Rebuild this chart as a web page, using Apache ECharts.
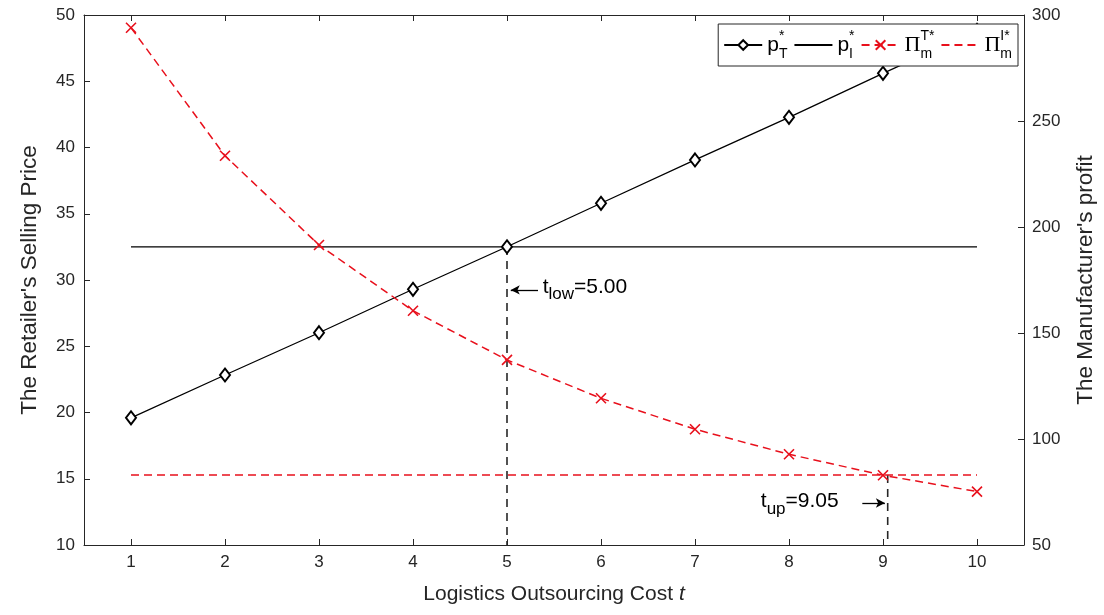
<!DOCTYPE html>
<html><head><meta charset="utf-8">
<style>html,body{margin:0;padding:0;background:#fff}#c{width:1104px;height:615px}</style>
<script src="https://cdn.jsdelivr.net/npm/echarts@6/dist/echarts.min.js"></script>
</head><body><div id="c"></div>
<script>
// ---- data ----
const tValues = [1, 2, 3, 4, 5, 6, 7, 8, 9, 10];
const xTicks = [1, 2, 3, 4, 5, 6, 7, 8, 9, 10];
const pT = [19.6, 22.83, 26.02, 29.3, 32.51, 35.79, 39.06, 42.28, 45.6, 48.85];
const pI = [32.5, 32.5, 32.5, 32.5, 32.5, 32.5, 32.5, 32.5, 32.5, 32.5];
const PiT = [294, 233.6, 191.5, 160.5, 137.3, 119.2, 104.6, 92.8, 82.9, 75.2];
const PiI = [83, 83, 83, 83, 83, 83, 83, 83, 83, 83];
const tLow = 5.00;
const tUp = 9.05;
const tLowLevel = 32.5;   // pI level (left axis)
const tUpLevel = 83;      // PiI level (right axis)
const leftMin = 10, leftMax = 50, leftStep = 5;
const rightMin = 50, rightMax = 300, rightStep = 50;

// ---- chart ----
const FONT = 'Liberation Sans';
const AX = '#262626';
const RED = '#e8101c';
const chart = echarts.init(document.getElementById('c'), null, {renderer: 'canvas'});
const pairs = (xs, ys) => xs.map((x, i) => [x, ys[i]]);

const sub = {fontFamily: FONT, fontSize: 14, lineHeight: 14, verticalAlign: 'bottom', color: '#000'};
const sup0 = {fontFamily: FONT, fontSize: 14, lineHeight: 14, verticalAlign: 'top', color: '#000', width: 0};
const legendLabels = {
  pT: '{m|p}{sp|*}{sb|T}',
  pI: '{m|p}{sp|*}{sb|I}',
  PiT: '{g|\u03A0}{sp|T*}{sb|m}',
  PiI: '{g|\u03A0}{sp|I*}{sb|m}'
};
const noSymbol = {color: 'rgba(0,0,0,0)', borderColor: 'rgba(0,0,0,0)', borderWidth: 0};

const axisCommon = {
  axisLine: {show: true, onZero: false, lineStyle: {color: AX, width: 1}},
  axisTick: {show: true, inside: true, length: 6, lineStyle: {color: AX}},
  splitLine: {show: false},
  axisLabel: {fontFamily: FONT, fontSize: 17, color: AX}
};

chart.setOption({
  animation: false,
  backgroundColor: '#fff',
  grid: {left: 84, right: 80, top: 15, bottom: 70, containLabel: false, outerBoundsMode: 'none'},
  legend: {
    data: [
      {name: 'pT'},
      {name: 'pI', itemStyle: noSymbol},
      {name: 'PiT'},
      {name: 'PiI', itemStyle: noSymbol}
    ],
    right: 86, top: 24,
    backgroundColor: '#fff', borderColor: AX, borderWidth: 1, borderRadius: 0,
    padding: [5, 6, 5, 5], itemGap: 6, itemWidth: 38, itemHeight: 12,
    selectedMode: false,
    formatter: name => legendLabels[name],
    textStyle: {
      fontFamily: FONT, fontSize: 20, color: '#000',
      rich: {
        m: {fontFamily: FONT, fontSize: 21, lineHeight: 32, color: '#000'},
        g: {fontFamily: 'Liberation Serif', fontSize: 22, lineHeight: 32, color: '#000'},
        sp: sup0, sb: sub
      }
    }
  },
  xAxis: [
    Object.assign({}, axisCommon, {
      type: 'value', position: 'bottom', min: 0.5, max: 10.5,
      axisTick: {show: true, inside: true, length: 6, customValues: xTicks, lineStyle: {color: AX}},
      axisLabel: {customValues: xTicks, margin: 9, fontFamily: FONT, fontSize: 17, color: AX},
      name: 'Logistics Outsourcing Cost {i|t}', nameLocation: 'middle', nameGap: 39,
      nameTextStyle: {fontFamily: FONT, fontSize: 21, color: AX,
        rich: {i: {fontFamily: FONT, fontSize: 21, fontStyle: 'italic', color: AX}}}
    }),
    Object.assign({}, axisCommon, {
      type: 'value', position: 'top', min: 0.5, max: 10.5,
      axisTick: {show: true, inside: true, length: 6, customValues: xTicks, lineStyle: {color: AX}},
      axisLabel: {show: false}
    })
  ],
  yAxis: [
    Object.assign({}, axisCommon, {
      type: 'value', position: 'left', min: leftMin, max: leftMax, interval: leftStep,
      axisLabel: {margin: 9, fontFamily: FONT, fontSize: 17, color: AX},
      name: "The Retailer's Selling Price", nameLocation: 'middle', nameGap: 43, nameRotate: 90,
      nameTextStyle: {fontFamily: FONT, fontSize: 22.5, color: AX}
    }),
    Object.assign({}, axisCommon, {
      type: 'value', position: 'right', min: rightMin, max: rightMax, interval: rightStep,
      axisLabel: {margin: 8, fontFamily: FONT, fontSize: 17, color: AX},
      name: "The Manufacturer's profit", nameLocation: 'middle', nameGap: 50, nameRotate: 90,
      nameTextStyle: {fontFamily: FONT, fontSize: 22.5, color: AX}
    })
  ],
  series: [
    {
      name: 'pT', type: 'line', xAxisIndex: 0, yAxisIndex: 0, data: pairs(tValues, pT),
      symbol: 'emptyDiamond', symbolSize: [10, 13], showAllSymbol: true,
      lineStyle: {color: '#000', width: 1.3},
      itemStyle: {color: '#000', borderWidth: 1}, z: 3
    },
    {
      name: 'pI', type: 'line', xAxisIndex: 0, yAxisIndex: 0, data: pairs(tValues, pI),
      symbol: 'none', lineStyle: {color: '#000', width: 1.3}, itemStyle: {color: '#000'}, z: 2
    },
    {
      name: 'PiT', type: 'line', xAxisIndex: 0, yAxisIndex: 1, data: pairs(tValues, PiT),
      symbol: 'path://M0,0L10,10M10,0L0,10', symbolSize: 10, showAllSymbol: true,
      lineStyle: {color: RED, width: 1.5, type: [8, 5]},
      itemStyle: {color: RED, borderColor: RED, borderWidth: 1.6}, z: 3
    },
    {
      name: 'PiI', type: 'line', xAxisIndex: 0, yAxisIndex: 1, data: pairs(tValues, PiI),
      symbol: 'none', lineStyle: {color: RED, width: 1.5, type: [8, 5]}, itemStyle: {color: RED}, z: 2
    },
    {
      name: 'tLowLine', type: 'line', xAxisIndex: 0, yAxisIndex: 0,
      data: [[tLow, tLowLevel], [tLow, leftMin]], symbol: 'none', silent: true,
      lineStyle: {color: AX, width: 1.6, type: [8, 6]}, z: 1,
      markLine: {
        silent: true, symbol: ['none', 'arrow'], symbolSize: [7, 9], animation: false,
        lineStyle: {type: 'solid', color: '#000', width: 1.3}, label: {show: false},
        data: [[{coord: [5.33, 29.25]}, {coord: [tLow + 0.04, 29.25]}]]
      }
    },
    {
      name: 'tUpLine', type: 'line', xAxisIndex: 0, yAxisIndex: 1,
      data: [[tUp, tUpLevel], [tUp, rightMin]], symbol: 'none', silent: true,
      lineStyle: {color: AX, width: 1.6, type: [8, 6]}, z: 1,
      markLine: {
        silent: true, symbol: ['none', 'arrow'], symbolSize: [7, 9], animation: false,
        lineStyle: {type: 'solid', color: '#000', width: 1.3}, label: {show: false},
        data: [[{coord: [8.78, 69.8]}, {coord: [tUp - 0.03, 69.8]}]]
      }
    }
  ]
});

// annotation labels positioned through the chart's own scales
const pLow = chart.convertToPixel({xAxisIndex: 0, yAxisIndex: 0}, [5.38, 29.45]);
const pUp = chart.convertToPixel({xAxisIndex: 0, yAxisIndex: 1}, [7.70, 70.5]);
const annRich = {
  m: {fontFamily: FONT, fontSize: 21, lineHeight: 32, color: '#000'},
  sb: {fontFamily: FONT, fontSize: 17, lineHeight: 17, verticalAlign: 'bottom', color: '#000'}
};
chart.setOption({
  graphic: [
    {type: 'text', x: pLow[0], y: pLow[1], z: 10, silent: true,
     style: {text: '{m|t}{sb|low}{m|=' + tLow.toFixed(2) + '}', verticalAlign: 'middle', align: 'left', rich: annRich}},
    {type: 'text', x: pUp[0], y: pUp[1], z: 10, silent: true,
     style: {text: '{m|t}{sb|up}{m|=' + tUp.toFixed(2) + '}', verticalAlign: 'middle', align: 'left', rich: annRich}}
  ]
});
</script>
</body></html>
